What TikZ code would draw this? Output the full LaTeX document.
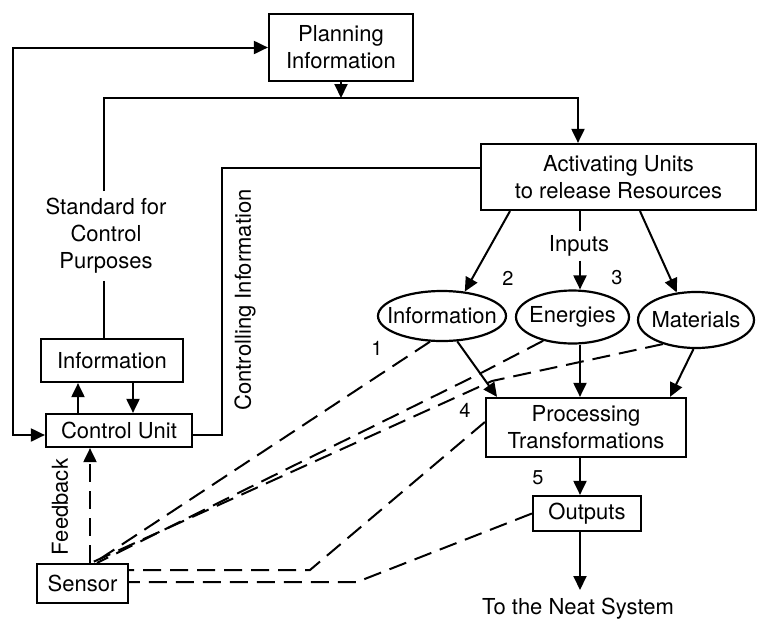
\documentclass[tikz,border=0pt]{standalone}
\usepackage{fontspec}
\setmainfont{TeX Gyre Heros}
\usetikzlibrary{arrows.meta,shapes.geometric}

\tikzset{
  every node/.style={font=\fontsize{22}{27}\selectfont},
  box/.style={draw, line width=2.2pt, inner sep=0pt, align=center},
  oval/.style={draw, ellipse, line width=2.2pt, inner sep=0pt},
  wire/.style={line width=2pt},
  tri/.style={wire, -{Triangle[length=14pt,width=13pt]}},
  tritri/.style={wire, {Triangle[length=14pt,width=13pt]}-{Triangle[length=14pt,width=13pt]}},
  dline/.style={wire, dash pattern=on 18pt off 9pt},
  num/.style={font=\fontsize{20}{24}\selectfont, inner sep=0pt},
}

\begin{document}
\begin{tikzpicture}[x=1pt, y=-1pt]
  \fill[white] (0,0) rectangle (758,619);
  \useasboundingbox (0,0) rectangle (758,619);

  % boxes
  \node[box, minimum width=144pt, minimum height=67pt] (plan) at (341,47.5) {Planning\\Information};
  \node[box, minimum width=275pt, minimum height=66pt] (act) at (618.5,177) {Activating Units\\to release Resources};
  \node[box, minimum width=142pt, minimum height=43pt] (info) at (112,360.5) {Information};
  \node[box, minimum width=146pt, minimum height=33pt] (cu) at (119,430.5) {Control Unit};
  \node[box, minimum width=91pt, minimum height=39pt] (sen) at (82.5,583.5) {Sensor};
  \node[box, minimum width=200pt, minimum height=59pt] (pr) at (586,427.5) {Processing\\Transformations};
  \node[box, minimum width=108pt, minimum height=35pt] (out) at (587,513.5) {Outputs};

  % input ovals
  \node[oval, minimum width=128pt, minimum height=50pt] (ei) at (442,316) {\makebox[0pt]{Information}};
  \node[oval, minimum width=113pt, minimum height=53pt] (en) at (572.5,317) {\makebox[0pt]{Energies}};
  \node[oval, minimum width=116pt, minimum height=56pt] (ma) at (696,320) {\makebox[0pt]{Materials}};

  % free text
  \node[align=center, inner sep=7pt] (std) at (106,236) {Standard for\\Control\\Purposes};
  \node[inner sep=4pt] (inp) at (579,246) {Inputs};
  \node[rotate=90, inner sep=0pt] (ctl) at (245,300) {Controlling Information};
  \node[rotate=90, inner sep=0pt] (fb) at (60,507) {Feedback};
  \node[anchor=north, inner sep=0pt] (neat) at (578,598) {To the Neat System};

  % step numbers
  \node[num] (n1) at (377,348) {1};
  \node[num] (n2) at (508,278) {2};
  \node[num] (n3) at (617,278) {3};
  \node[num] (n4) at (465,410) {4};
  \node[num] (n5) at (538,478) {5};

  % bend points
  \coordinate (lt) at (13,47.5);
  \coordinate (lb) at (13,435);
  \coordinate (sx) at (104,98);
  \coordinate (jr) at (578,98);
  \coordinate (ua) at (78,0);
  \coordinate (da) at (133,0);
  \coordinate (cb) at (222,435);
  \coordinate (ct) at (222,168);
  \coordinate (fx) at (90,0);
  \coordinate (a1) at (510,0);
  \coordinate (p1) at (497,0);
  \coordinate (p2) at (580,0);
  \coordinate (p3) at (670,0);
  \coordinate (a3) at (640,0);
  \coordinate (s1) at (94,0);
  \coordinate (s2) at (97,0);
  \coordinate (s3) at (91,0);
  \coordinate (k1) at (483,372);
  \coordinate (k2) at (492,381);
  \coordinate (pq) at (0,422);
  \coordinate (b1) at (310,570);
  \coordinate (b2) at (357,582);

  % planning loop
  \draw[tritri] (plan.west) -- (lt) -- (lb) -- (cu.west |- lb);
  \draw[tri] (plan.south) -- (plan.south |- sx);
  \draw[tri] (std.north -| sx) -- (sx) -- (jr) -- (act.north -| jr);
  \draw[wire] (std.south -| sx) -- (info.north -| sx);

  % control unit and its information store
  \draw[tri] (cu.north -| ua) -- (info.south -| ua);
  \draw[tri] (info.south -| da) -- (cu.north -| da);
  \draw[wire] (cu.east |- cb) -- (cb) -- (ct) -- (act.west |- ct);

  % resources released as inputs
  \draw[tri] (act.south -| a1) -- (ei.47);
  \draw[wire] (act.south -| p2) -- (inp.north -| p2);
  \draw[tri] (inp.south -| p2) -- (en.north -| p2);
  \draw[tri] (act.south -| a3) -- (ma.125);

  % inputs into processing, then outputs
  \draw[tri] (ei.-59) -- (pr.north -| p1);
  \draw[tri] (en.south -| p2) -- (pr.north -| p2);
  \draw[tri] (ma.-95) -- (pr.north -| p3);
  \draw[tri] (pr.south -| p2) -- (out.north -| p2);
  \draw[tri, shorten >=8pt] (out.south -| p2) -- (neat.north -| p2);

  % sensing lines
  \draw[dline, -{Triangle[length=14pt,width=13pt]}] (sen.north -| fx) -- (cu.south -| fx);
  \draw[dline] (ei.245) -- (sen.north -| s1);
  \draw[dline] (en.219) -- (k1) -- (sen.north -| s2);
  \draw[dline] (ma.216) -- (k2) -- (sen.north -| s3);
  \draw[dline] (pr.west |- pq) -- (b1) -- (sen.east |- b1);
  \draw[dline] (out.west) -- (b2) -- (sen.east |- b2);
\end{tikzpicture}
\end{document}
